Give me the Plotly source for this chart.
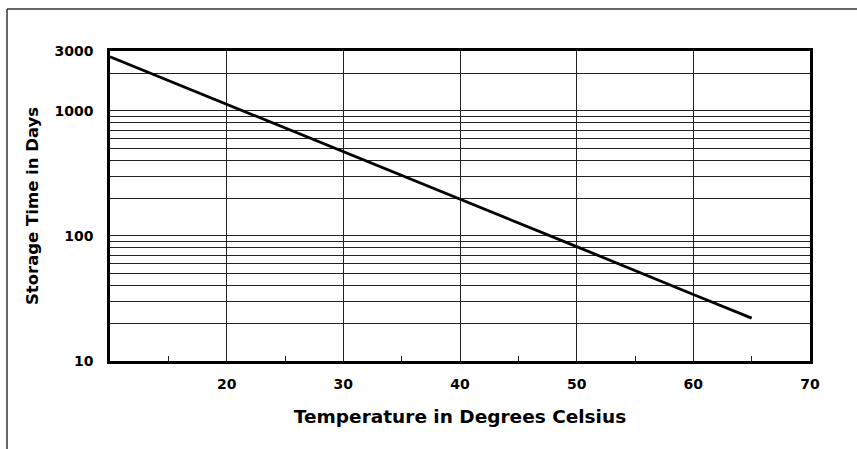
import plotly.graph_objects as go

# Data
temperature_c = [10, 20, 30, 40, 50, 60, 65]
storage_days = [2700, 1130, 470, 196, 82, 34, 22]

y_tickvals = [10, 20, 30, 40, 50, 60, 70, 80, 90,
              100, 200, 300, 400, 500, 600, 700, 800, 900,
              1000, 2000, 3000]
y_ticktext = ["10"] + [""] * 8 + ["100"] + [""] * 8 + ["1000", "", "3000"]
x_tickvals = [20, 30, 40, 50, 60, 70]
x_ticktext = ["20", "30", "40", "50", "60", "70"]
x_minor_ticks = [15, 25, 35, 45, 55, 65]

FONT = "DejaVu Sans"

fig = go.Figure()
fig.add_trace(go.Scatter(
    x=temperature_c, y=storage_days, mode="lines",
    line=dict(color="black", width=2.8), showlegend=False,
))

L, R, T, B = 110, 47, 51, 88
W, H = 857, 449
pw, ph = W - L - R, H - T - B

fig.update_layout(
    width=W, height=H,
    margin=dict(l=L, r=R, t=T, b=B),
    paper_bgcolor="white", plot_bgcolor="white",
    font=dict(family=FONT, color="black"),
    xaxis=dict(
        range=[10, 70], tickmode="array", tickvals=x_tickvals, ticktext=x_ticktext,
        showgrid=True, gridcolor="#222", gridwidth=1,
        showline=True, linecolor="black", linewidth=2.5, mirror=True,
        ticks="", ticklabelstandoff=8, zeroline=False,
        tickfont=dict(family=FONT, size=14, color="black", weight="bold"),
        minor=dict(tickmode="array", tickvals=x_minor_ticks, ticks="inside",
                   ticklen=5, tickwidth=1, tickcolor="#222", showgrid=False),
        title=dict(text="<b>Temperature in Degrees Celsius</b>", standoff=20,
                   font=dict(family=FONT, size=18.5, color="black")),
    ),
    yaxis=dict(
        type="log", range=[1, 3.4771], tickmode="array",
        tickvals=y_tickvals, ticktext=y_ticktext,
        showgrid=True, gridcolor="#222", gridwidth=1,
        showline=True, linecolor="black", linewidth=2.5, mirror=True,
        ticks="", ticklabelstandoff=11, zeroline=False,
        tickfont=dict(family=FONT, size=14, color="black", weight="bold"),
        title=dict(text="<b>Storage Time in Days</b>", standoff=12,
                   font=dict(family=FONT, size=16.5, color="black")),
    ),
    shapes=[
        dict(type="line", xref="paper", yref="paper",
             x0=(7 - L) / pw, x1=(W + 5 - L) / pw,
             y0=(H - B - 9) / ph, y1=(H - B - 9) / ph,
             line=dict(color="#333", width=1.5)),
        dict(type="line", xref="paper", yref="paper",
             x0=(7 - L) / pw, x1=(7 - L) / pw,
             y0=(H - B - 9) / ph, y1=-(B + 5) / ph,
             line=dict(color="#333", width=1.5)),
    ],
)

fig.write_html(
    "out.html",
    config={"displayModeBar": False},
    post_script="document.body.style.margin='0';document.body.style.overflow='hidden';",
)
